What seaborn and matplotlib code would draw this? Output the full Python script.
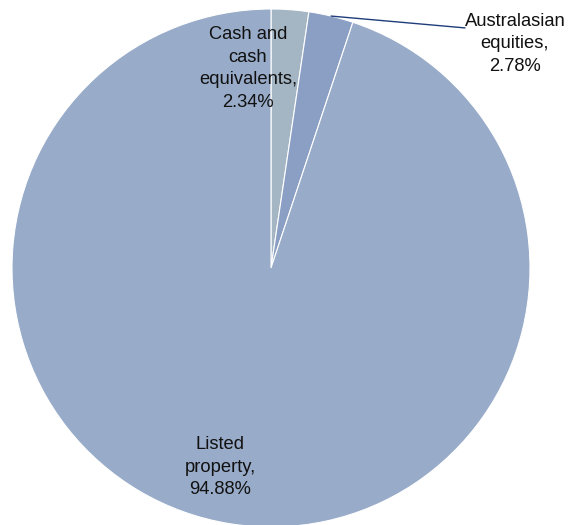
import numpy as np
import matplotlib
matplotlib.use("Agg")
import matplotlib.pyplot as plt
import seaborn as sns

# portfolio allocation, clockwise from 12 o'clock
labels = ["Cash and\ncash\nequivalents,", "Australasian\nequities,", "Listed\nproperty,"]
shares = [2.34, 2.78, 94.88]
colours = ["#a4b5c3", "#8a9fc3", "#98abc8"]

sns.set_theme(style="white")
plt.rcParams['font.family'] = ['Liberation Sans', 'DejaVu Sans']

W, H = 579, 525
fig = plt.figure(figsize=(W / 100, H / 100), dpi=100)
cx, cy, r = 271, 268, 259
ax = fig.add_axes([(cx - r) / W, (H - cy - r) / H, 2 * r / W, 2 * r / H])

wedges, _ = ax.pie(shares, colors=colours, startangle=90, counterclock=False,
                   radius=1, wedgeprops=dict(edgecolor="white", linewidth=0.8))
ax.set_xlim(-1, 1)
ax.set_ylim(-1, 1)
ax.set_aspect("equal")
ax.axis("off")

fs = 13.2
ls = 1.42
txt = [l + "\n" + "{:.2f}%".format(s) for l, s in zip(labels, shares)]

# cash label inside the big slice, left of the top
ax.text(-0.089, 0.77, txt[0], ha="center", va="center", fontsize=fs,
        linespacing=ls, color="#111111")
# listed property label
ax.text(-0.197, -0.77, txt[2], ha="center", va="center", fontsize=fs,
        linespacing=ls, color="#111111")

# australasian equities: outside with leader line from wedge edge
mid = np.deg2rad(90 - (shares[0] + shares[1] / 2) * 3.6)
x0, y0 = np.cos(mid), np.sin(mid)
x1, y1 = 0.749, 0.927
ax.plot([x0, x1], [y0, y1], color="#1f3d7a", linewidth=1.0, clip_on=False)
ax.text(0.942, 0.865, txt[1], ha="center", va="center", fontsize=fs,
        linespacing=ls, color="#111111", clip_on=False)

fig.savefig("out.png", dpi=100)
